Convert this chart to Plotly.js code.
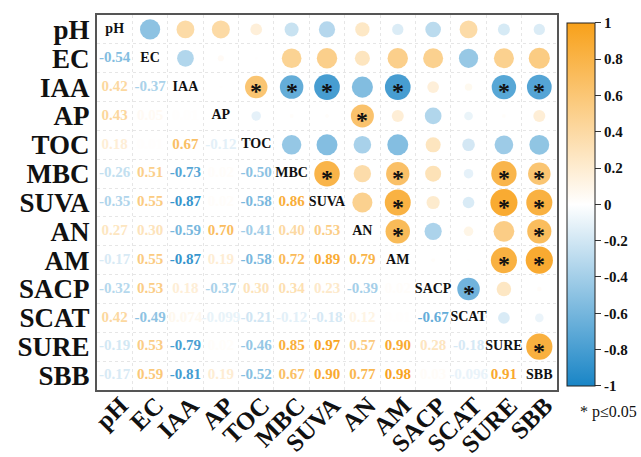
<!DOCTYPE html>
<html>
<head>
<meta charset="utf-8">
<script src="https://cdn.plot.ly/plotly-3.0.1.min.js"></script>
<style>html,body{margin:0;padding:0;background:#fff;}#chart{width:641px;height:457px;}</style>
</head>
<body>
<div id="chart"></div>
<script>
// Variable names (row/column order)
const vars = ['pH','EC','IAA','AP','TOC','MBC','SUVA','AN','AM','SACP','SCAT','SURE','SBB'];

// Lower-triangle correlations, one array per row (columns pH .. previous variable)
const r_EC   = [-0.54];
const r_IAA  = [0.42, -0.37];
const r_AP   = [0.43, 0.05, 0.01];
const r_TOC  = [0.18, 0.01, 0.67, -0.12];
const r_MBC  = [-0.26, 0.51, -0.73, 0.02, -0.50];
const r_SUVA = [-0.35, 0.55, -0.87, 0.02, -0.58, 0.86];
const r_AN   = [0.27, 0.30, -0.59, 0.70, -0.41, 0.40, 0.53];
const r_AM   = [-0.17, 0.55, -0.87, 0.19, -0.58, 0.72, 0.89, 0.79];
const r_SACP = [-0.32, 0.53, 0.18, -0.37, 0.30, 0.34, 0.23, -0.39, 0.02];
const r_SCAT = [0.42, -0.49, 0.074, -0.099, -0.21, -0.12, -0.18, 0.12, 0.01, -0.67];
const r_SURE = [-0.19, 0.53, -0.79, 0.02, -0.46, 0.85, 0.97, 0.57, 0.90, 0.28, -0.18];
const r_SBB  = [-0.17, 0.59, -0.81, 0.19, -0.52, 0.67, 0.90, 0.77, 0.98, 0.03, -0.096, 0.91];

// Significant pairs (p <= 0.05)
const sigPairs = [
  ['IAA','TOC'],['IAA','MBC'],['IAA','SUVA'],['IAA','AM'],['IAA','SURE'],['IAA','SBB'],
  ['AP','AN'],
  ['MBC','SUVA'],['MBC','AM'],['MBC','SURE'],['MBC','SBB'],
  ['SUVA','AM'],['SUVA','SURE'],['SUVA','SBB'],
  ['AN','AM'],['AN','SBB'],
  ['AM','SURE'],['AM','SBB'],
  ['SACP','SCAT'],
  ['SURE','SBB']
];

const colorbarTicks = [-1,-0.8,-0.6,-0.4,-0.2,0,0.2,0.4,0.6,0.8,1];

// ---------- build ----------
const lower = [[], r_EC, r_IAA, r_AP, r_TOC, r_MBC, r_SUVA, r_AN, r_AM, r_SACP, r_SCAT, r_SURE, r_SBB];
const n = vars.length;
const NEG = [25,133,198], POS = [248,161,26];
function colorOf(v){
  const t = Math.min(1, Math.abs(v));
  const c = v < 0 ? NEG : POS;
  const m = c.map(k => Math.round(255 + (k - 255) * t));
  return 'rgb(' + m.join(',') + ')';
}
function fmt(v){
  return Math.abs(v) < 0.1 ? String(v) : v.toFixed(2);
}

const lx=[], ly=[], lt=[], lc=[];
const ux=[], uy=[], uv=[], us=[];
for (let i = 1; i < n; i++) {
  for (let j = 0; j < i; j++) {
    const v = lower[i][j];
    lx.push(j); ly.push(i); lt.push(fmt(v)); lc.push(colorOf(v));
    // mirror into upper triangle as circle
    ux.push(i); uy.push(j); uv.push(v); us.push(27.5 * Math.sqrt(Math.abs(v)));
  }
}
const idx = Object.fromEntries(vars.map((v,i)=>[v,i]));
const FONT = 'Liberation Serif, Times New Roman, serif';

const traces = [
  {
    type:'scatter', mode:'markers', x:ux, y:uy, hoverinfo:'skip',
    marker:{size:us, sizemode:'diameter', color:uv, cmin:-1, cmax:1, opacity:0.92,
      line:{width:0},
      colorscale:[[0,'rgb(25,133,198)'],[0.5,'rgb(255,255,255)'],[1,'rgb(248,161,26)']],
      showscale:true,
      colorbar:{x:1.021, xanchor:'left', y:0.495, yanchor:'middle', len:0.968, lenmode:'fraction',
        thickness:28, xpad:0, ypad:0, outlinecolor:'#222', outlinewidth:1,
        tickvals:colorbarTicks, ticktext:colorbarTicks.map(String),
        ticks:'outside', ticklen:6, tickcolor:'#333',
        tickfont:{family:FONT, size:15, color:'#111', weight:'bold'}}
    },
    showlegend:false
  },
  {
    type:'scatter', mode:'text', x:lx, y:ly, text:lt, hoverinfo:'skip',
    textfont:{family:FONT, size:15, color:lc, weight:'bold'}, showlegend:false
  },
  {
    type:'scatter', mode:'text', x:vars.map((v,i)=>i), y:vars.map((v,i)=>i), text:vars, hoverinfo:'skip',
    textfont:{family:FONT, size:14, color:'#111', weight:'bold'}, showlegend:false
  }
];

const annotations = sigPairs.map(p => ({
  x: idx[p[1]], y: idx[p[0]], xref:'x', yref:'y', text:'*', showarrow:false,
  font:{family:FONT, size:24, color:'#111', weight:'bold'}, yshift:-4
}));
annotations.push({xref:'paper', yref:'paper', x:1.045, y:-0.058, xanchor:'left', yanchor:'middle',
  text:'* p≤0.05', showarrow:false, font:{family:FONT, size:16, color:'#111'}});

const half = [];
for (let k = 0; k < n - 1; k++) half.push(k + 0.5);

const axisCommon = {
  range:[-0.5, n-0.5], tickvals:vars.map((v,i)=>i), ticktext:vars,
  showgrid:false, zeroline:false, showline:true, mirror:true, linecolor:'#555', linewidth:2,
  ticks:'', tickfont:{family:FONT, size:27, color:'#111', weight:'bold'},
  minor:{tickvals:half, showgrid:true, gridcolor:'#e6e6e6', griddash:'dot', gridwidth:1, ticks:''}
};

const layout = {
  width:641, height:457,
  margin:{l:97, r:78, t:15, b:67},
  paper_bgcolor:'#fff', plot_bgcolor:'#fff',
  xaxis:Object.assign({}, axisCommon, {tickangle:-45, ticklabelstandoff:-11, ticklabelshift:6,
    tickfont:{family:FONT, size:25, color:'#111', weight:'bold'}}),
  yaxis:Object.assign({}, axisCommon, {range:[n-0.5, -0.5]}),
  annotations:annotations,
  showlegend:false
};

Plotly.newPlot('chart', traces, layout, {displayModeBar:false, staticPlot:true});
</script>
</body>
</html>
